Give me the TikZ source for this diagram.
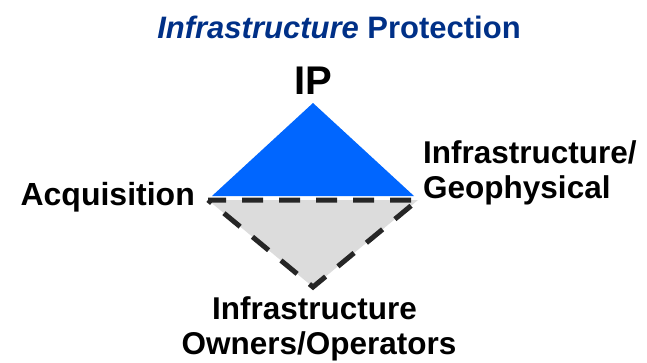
\documentclass[tikz,border=0pt]{standalone}
\usepackage{fontspec}
\setmainfont{Liberation Sans}
\usetikzlibrary{positioning}
\definecolor{ipblue}{RGB}{0,102,255}
\definecolor{ttlblue}{RGB}{0,48,135}
\definecolor{ownergrey}{RGB}{220,220,220}
\definecolor{dashdark}{RGB}{38,38,38}

\begin{document}
\begin{tikzpicture}[x=1pt, y=-1pt, every node/.style={inner sep=0pt, font=\bfseries\fontsize{31.5}{35}\selectfont}]
            \useasboundingbox (0,0) rectangle (647,362);
            % corners of the two triangles
            \coordinate (top) at (313,103);
            \coordinate (bl) at (212,196);
            \coordinate (br) at (414,196);
            \coordinate (gl) at (208,200);
            \coordinate (gr) at (418,200);
            \coordinate (bot) at (313,287);
            \fill[ipblue] (top) -- (br) -- (bl) -- cycle;
            \filldraw[fill=ownergrey, draw=dashdark, line width=5pt, dash pattern=on 21pt off 16pt, dash phase=3pt] (gl) -- (gr) -- (bot) -- cycle;
            % labels
            \node[anchor=base, text=ttlblue, font=\bfseries\fontsize{31}{33}\selectfont] (title) at (339,38) {\textit{Infrastructure} Protection};
            \node[anchor=base, font=\bfseries\fontsize{40}{44}\selectfont] (ip) at (313.5,94) {IP};
            \node[anchor=base east, font=\bfseries\fontsize{32}{35}\selectfont] (acq) at (195,205) {Acquisition};
            \node[anchor=north west, align=left] (geo) at (423,140) {Infrastructure/\\Geophysical};
            \node[anchor=north, align=center] (own) at (319,296) {Infrastructure\kern0.28em\\Owners/Operators};
        \end{tikzpicture}
\end{document}
